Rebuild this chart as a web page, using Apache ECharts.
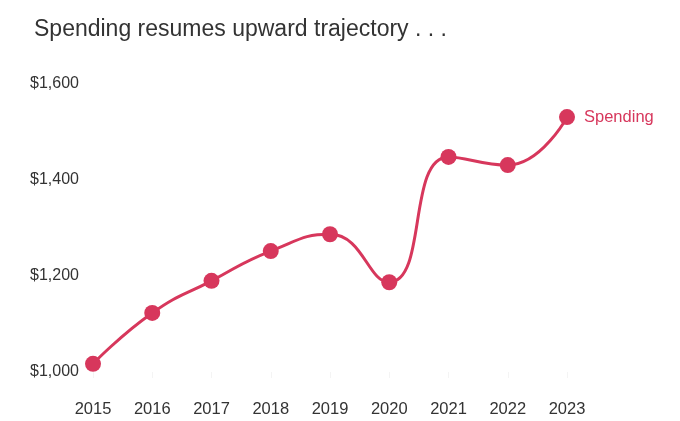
<!DOCTYPE html>
<html>
<head>
<meta charset="utf-8">
<script src="https://cdn.jsdelivr.net/npm/echarts@6/dist/echarts.min.js"></script>
<style>
  html, body { margin: 0; padding: 0; background: #fff; }
  #chart { width: 680px; height: 421px; }
</style>
</head>
<body>
<div id="chart"></div>
<script>
// data
let years = ['2015', '2016', '2017', '2018', '2019', '2020', '2021', '2022', '2023'];
let spending = [1017, 1123, 1190, 1252, 1287, 1187, 1448, 1431, 1531];
let seriesName = 'Spending';

let chart = echarts.init(document.getElementById('chart'));
let red = '#d7375c';
let font = 'Liberation Sans, Arial, sans-serif';

let option = {
    backgroundColor: '#fff',
    animation: false,
    title: {
        text: 'Spending resumes upward trajectory . . .',
        left: 29,
        top: 13,
        textStyle: {
            fontFamily: font,
            fontSize: 23,
            fontWeight: 'normal',
            color: '#333'
        }
    },
    grid: {
        left: 93,
        right: 113,
        top: 84,
        bottom: 49
    },
    xAxis: {
        type: 'category',
        data: years,
        boundaryGap: false,
        axisLine: { show: false },
        axisTick: { show: true, length: 6, lineStyle: { color: '#f4f4f4' } },
        axisLabel: {
            margin: 29,
            fontFamily: font,
            fontSize: 16.5,
            color: '#333'
        }
    },
    yAxis: {
        type: 'value',
        min: 1000,
        max: 1600,
        interval: 200,
        splitLine: { show: false },
        axisLine: { show: false },
        axisTick: { show: false },
        axisLabel: {
            align: 'left',
            margin: 63,
            fontFamily: font,
            fontSize: 16,
            color: '#333',
            formatter: function (v) {
                return '$' + v.toLocaleString('en-US');
            }
        }
    },
    series: [
        {
            name: seriesName,
            type: 'line',
            data: spending,
            smooth: 0.5,
            symbol: 'circle',
            symbolSize: 16,
            lineStyle: { color: red, width: 3 },
            itemStyle: { color: red },
            endLabel: {
                show: true,
                formatter: '{a}',
                distance: 17,
                fontFamily: font,
                fontSize: 16.5,
                color: red
            }
        }
    ]
};

chart.setOption(option);
</script>
</body>
</html>
